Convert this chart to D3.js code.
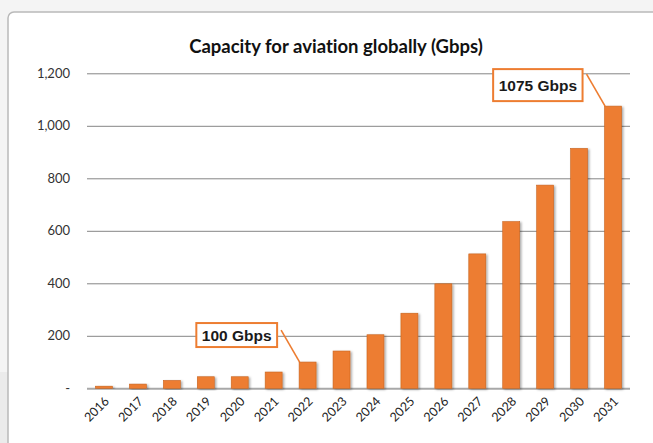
<!DOCTYPE html>
<html>
<head>
<meta charset="utf-8">
<script src="https://cdn.jsdelivr.net/npm/d3@7"></script>
<style>
  html, body { margin: 0; padding: 0; background: #f4f4f4; }
  svg { display: block; }
  text { font-variant-ligatures: none; font-feature-settings: "liga" 0, "clig" 0; }
</style>
</head>
<body>
<svg id="chart" width="653" height="443"></svg>
<script>
// Annual capacity for aviation connectivity, in Gbps
const years = ["2016","2017","2018","2019","2020","2021","2022","2023",
               "2024","2025","2026","2027","2028","2029","2030","2031"];
const capacity = [8, 16, 30, 44, 44, 62, 100, 142, 204, 286, 398, 512, 635, 774, 914, 1075];
const yTicks = [0, 200, 400, 600, 800, 1000, 1200];
const callouts = ["2022", "2031"];

const W = 653, H = 443;
const svg = d3.select("#chart");

// page backdrop and card
svg.append("rect").attr("x", 0).attr("y", 372).attr("width", 8).attr("height", H - 372)
  .attr("fill", "#ebebeb");
svg.append("rect")
  .attr("x", 8).attr("y", 12).attr("width", 720).attr("height", 520)
  .attr("rx", 6).attr("fill", "#fff").attr("stroke", "#b9b9b9").attr("stroke-width", 1.5);

const defs = svg.append("defs");
const shadow = defs.append("filter").attr("id", "barShadow")
  .attr("x", "-30%").attr("y", "-10%").attr("width", "170%").attr("height", "130%");
shadow.append("feDropShadow").attr("dx", 1.5).attr("dy", 1).attr("stdDeviation", 1)
  .attr("flood-color", "#000").attr("flood-opacity", 0.35);

const x = d3.scaleBand().domain(years).range([87, 630])
  .paddingInner(0.5).paddingOuter(0.25);
const y = d3.scaleLinear().domain([0, 1200]).range([388.3, 73.3]);

// title
svg.append("text")
  .attr("x", 336).attr("y", 52.5)
  .attr("text-anchor", "middle")
  .attr("font-family", "Lato, 'Open Sans', sans-serif")
  .attr("font-weight", "bold").attr("font-size", 18.5).attr("fill", "#111")
  .text("Capacity for aviation globally (Gbps)");

// y axis with gridlines
const yAxis = d3.axisLeft(y).tickValues(yTicks)
  .tickSize(-(630 - 87)).tickPadding(17)
  .tickFormat(d => d === 0 ? "-" : d3.format(",")(d));
const gy = svg.append("g").attr("transform", "translate(87,0)").call(yAxis);
gy.select(".domain").remove();
gy.selectAll(".tick line").attr("stroke", "#858585").attr("stroke-width", 1)
  .filter(d => d === 0).attr("stroke", "#a8a8a8").attr("stroke-width", 2);
gy.selectAll(".tick text")
  .attr("font-family", "Lato, 'Open Sans', sans-serif")
  .attr("font-size", 13).attr("fill", "#333");

// bars
svg.append("g").selectAll("rect").data(years).join("rect")
  .attr("x", d => x(d))
  .attr("y", (d, i) => y(capacity[i]))
  .attr("width", x.bandwidth())
  .attr("height", (d, i) => y(0) - y(capacity[i]))
  .attr("fill", "#ED7D31")
  .attr("stroke", "#c8641f").attr("stroke-width", 0.6)
  .attr("filter", "url(#barShadow)");

// x axis labels
const xAxis = d3.axisBottom(x).tickSize(0).tickPadding(0);
const gx = svg.append("g").attr("transform", "translate(0,389)").call(xAxis);
gx.select(".domain").remove();
gx.selectAll(".tick text")
  .attr("font-family", "Lato, 'Open Sans', sans-serif")
  .attr("font-size", 12.5).attr("fill", "#222")
  .attr("text-anchor", "end")
  .attr("dy", 0)
  .attr("transform", "translate(6,13) rotate(-45)");

// value callouts with leader lines
const boxOffsets = { "2022": { top: -39, h: 24 }, "2031": { top: -37, h: 32 } };
callouts.forEach(yr => {
  const i = years.indexOf(yr);
  const v = capacity[i];
  const bx = x(yr), by = y(v);
  const g = svg.append("g");
  g.append("line")
    .attr("x1", bx - 18).attr("y1", by - 32)
    .attr("x2", bx + 0.5).attr("y2", by)
    .attr("stroke", "#ED7D31").attr("stroke-width", 1.6);
  const t = g.append("text")
    .attr("font-family", "'Liberation Sans', Arial, sans-serif")
    .attr("font-weight", "bold").attr("font-size", 15.5).attr("fill", "#1a1a1a")
    .attr("text-anchor", "end")
    .text(v + " Gbps");
  const o = boxOffsets[yr];
  const tw = t.node().getComputedTextLength();
  const right = bx - 22, left = right - tw - 11;
  g.insert("rect", "text")
    .attr("x", left).attr("y", by + o.top)
    .attr("width", right - left).attr("height", o.h)
    .attr("fill", "#fff").attr("stroke", "#ED7D31").attr("stroke-width", 2);
  t.attr("x", right - 5.5).attr("y", by + o.top + o.h / 2 + 5.5);
});
</script>
</body>
</html>
